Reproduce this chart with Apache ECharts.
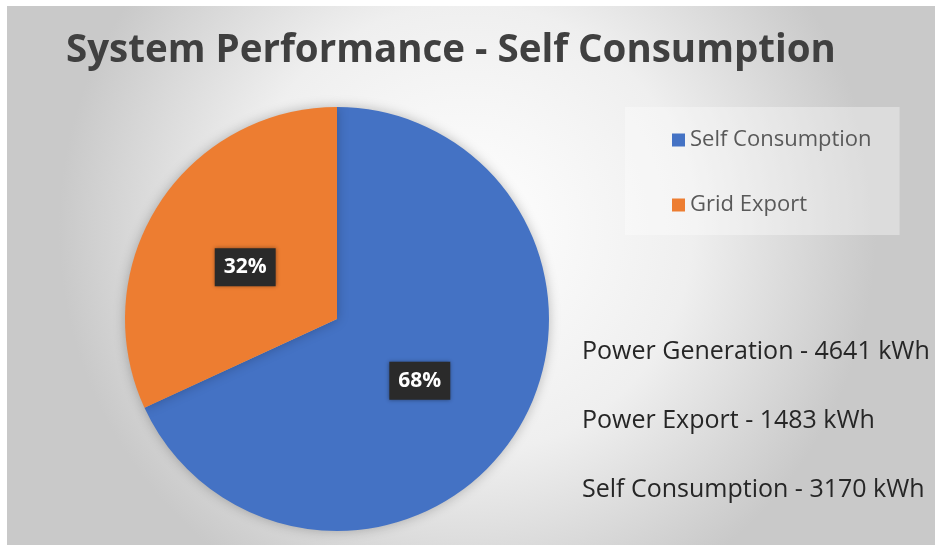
<!DOCTYPE html>
<html>
<head>
<meta charset="utf-8">
<script src="https://cdn.jsdelivr.net/npm/echarts@6/dist/echarts.min.js"></script>
<style>
  html, body { margin: 0; padding: 0; background: #fff; }
  #main { width: 935px; height: 545px; }
</style>
</head>
<body>
<div id="main"></div>
<script>
    'use strict';

    var chartTitle = 'System Performance - Self Consumption';
    var categories = ['Self Consumption', 'Grid Export'];
    var values = [3170, 1483];
    var colors = ['#4472C4', '#ED7D31'];

    var infoNames = ['Power Generation', 'Power Export', 'Self Consumption'];
    var infoValues = [4641, 1483, 3170];
    var infoUnit = 'kWh';

    var myChart = echarts.init(document.getElementById('main'));

    var total = values.reduce(function(a, b) { return a + b; }, 0);

    // white frame along the left and top edge (the original is a cropped screenshot)
    var frame = [
        { type: 'rect', left: 0, top: 0, shape: { width: 7, height: 545 }, style: { fill: '#fff' } },
        { type: 'rect', left: 0, top: 0, shape: { width: 935, height: 6 }, style: { fill: '#fff' } }
    ];

    // right hand summary lines
    var infoTexts = infoNames.map(function(name, i) {
        return {
            type: 'text',
            x: 582,
            y: 352 + i * 69,
            style: {
                text: name + ' - ' + infoValues[i] + ' ' + infoUnit,
                fill: '#262626',
                font: '25px "Open Sans", sans-serif',
                verticalAlign: 'middle'
            }
        };
    });

    // small nudges so the labels sit where the original puts them
    var labelOffsets = [[-9, 3], [0, 7]];

    var option = {
        backgroundColor: {
            type: 'radial',
            x: 0.5, y: 0.42, r: 0.75,
            colorStops: [
                { offset: 0, color: '#ffffff' },
                { offset: 0.55, color: '#efefef' },
                { offset: 1, color: '#c9c9c9' }
            ]
        },
        title: {
            text: chartTitle,
            left: 61,
            top: 27,
            textStyle: {
                fontFamily: 'Open Sans',
                fontWeight: 'bold',
                fontSize: 38.5,
                color: '#404040'
            }
        },
        legend: {
            orient: 'vertical',
            left: 625,
            top: 107,
            padding: [22, 28, 19, 47],
            itemGap: 43,
            itemWidth: 13,
            itemHeight: 13,
            icon: 'rect',
            backgroundColor: 'rgba(255,255,255,0.35)',
            textStyle: {
                fontFamily: 'Open Sans',
                fontSize: 22,
                color: '#595959'
            },
            data: categories
        },
        graphic: frame.concat(infoTexts),
        series: [{
            type: 'pie',
            center: [337, 319],
            radius: 212,
            startAngle: 90,
            clockwise: true,
            silent: true,
            label: {
                position: 'inside',
                formatter: function(p) {
                    return Math.round(p.value / total * 100) + '%';
                },
                color: '#ffffff',
                fontFamily: 'Open Sans',
                fontWeight: 'bold',
                fontSize: 21,
                backgroundColor: '#2a2a2a',
                padding: [9, 9, 8, 9],
                shadowBlur: 4,
                shadowColor: 'rgba(0,0,0,0.4)'
            },
            labelLine: { show: false },
            itemStyle: {
                borderWidth: 0,
                shadowBlur: 12,
                shadowColor: 'rgba(0,0,0,0.25)'
            },
            data: categories.map(function(name, i) {
                return {
                    name: name,
                    value: values[i],
                    itemStyle: { color: colors[i] },
                    label: { offset: labelOffsets[i] }
                };
            })
        }]
    };

    myChart.setOption(option);
</script>
</body>
</html>
